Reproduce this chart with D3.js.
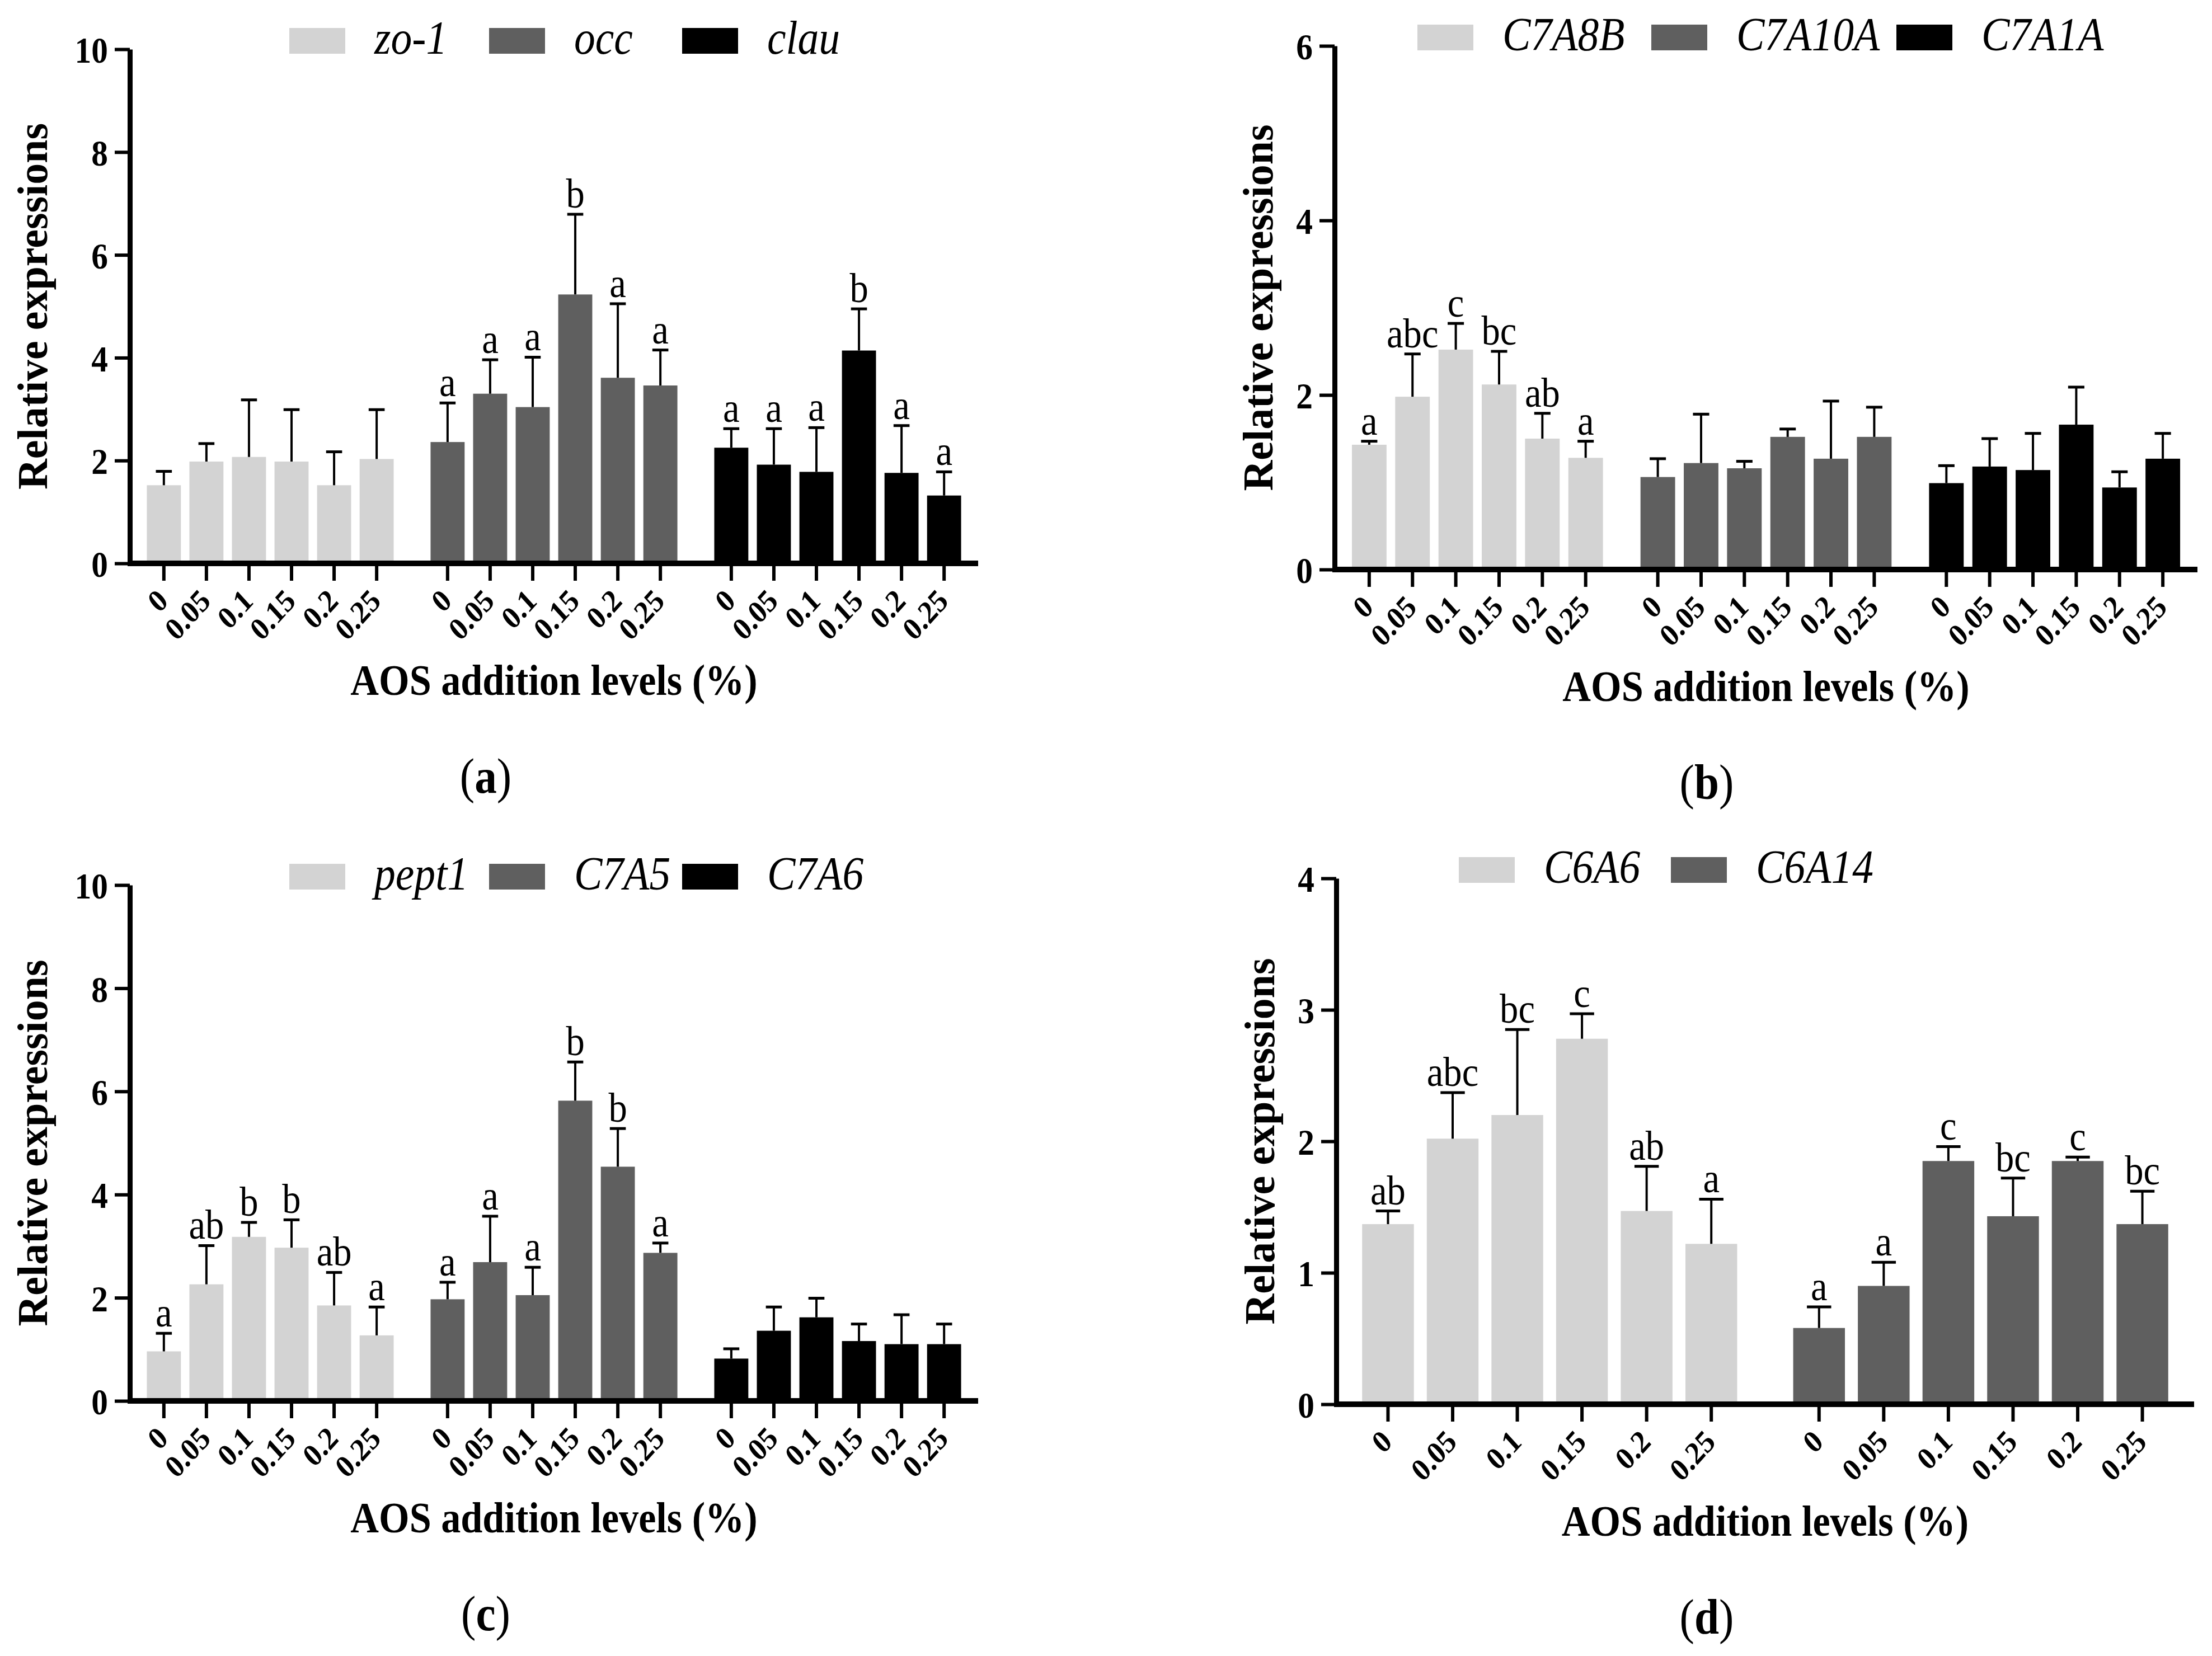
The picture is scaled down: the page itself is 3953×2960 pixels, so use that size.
<!DOCTYPE html>
<html><head><meta charset="utf-8">
<script src="https://cdn.jsdelivr.net/npm/d3@7"></script>
<style>html,body{margin:0;padding:0;background:#fff;} svg{display:block;}</style>
</head><body>
<svg id="chart" width="3953" height="2960" viewBox="0 0 3953 2960"></svg>
<script>
// ---------- DATA ----------
const levels = ["0", "0.05", "0.1", "0.15", "0.2", "0.25"];
const yTicksA = [0, 2, 4, 6, 8, 10];
const yTicksB = [0, 2, 4, 6];
const yTicksC = [0, 2, 4, 6, 8, 10];
const yTicksD = [0, 1, 2, 3, 4];
const xTitle = "AOS addition levels (%)";
const yTitle = "Relative expressions";

// panel (a)
const genesA = ["zo-1", "occ", "clau"];
const zo1Mean = [1.52, 1.98, 2.07, 1.98, 1.52, 2.03];
const zo1Sd   = [0.27, 0.35, 1.11, 1.01, 0.65, 0.96];
const zo1Let  = ["", "", "", "", "", ""];
const occMean = [2.36, 3.30, 3.04, 5.23, 3.61, 3.46];
const occSd   = [0.76, 0.66, 0.97, 1.56, 1.44, 0.69];
const occLet  = ["a", "a", "a", "b", "a", "a"];
const clauMean = [2.25, 1.92, 1.78, 4.14, 1.76, 1.32];
const clauSd   = [0.37, 0.70, 0.86, 0.81, 0.92, 0.46];
const clauLet  = ["a", "a", "a", "b", "a", "a"];

// panel (b)
const genesB = ["C7A8B", "C7A10A", "C7A1A"];
const c7a8bMean = [1.43, 1.98, 2.52, 2.12, 1.50, 1.28];
const c7a8bSd   = [0.04, 0.49, 0.30, 0.38, 0.29, 0.19];
const c7a8bLet  = ["a", "abc", "c", "bc", "ab", "a"];
const c7a10aMean = [1.06, 1.22, 1.16, 1.52, 1.27, 1.52];
const c7a10aSd   = [0.21, 0.56, 0.08, 0.09, 0.66, 0.34];
const c7a10aLet  = ["", "", "", "", "", ""];
const c7a1aMean = [0.99, 1.18, 1.14, 1.66, 0.94, 1.27];
const c7a1aSd   = [0.20, 0.32, 0.42, 0.43, 0.18, 0.29];
const c7a1aLet  = ["", "", "", "", "", ""];

// panel (c)
const genesC = ["pept1", "C7A5", "C7A6"];
const pept1Mean = [0.96, 2.26, 3.18, 2.97, 1.85, 1.27];
const pept1Sd   = [0.35, 0.75, 0.28, 0.54, 0.64, 0.55];
const pept1Let  = ["a", "ab", "b", "b", "ab", "a"];
const c7a5Mean = [1.97, 2.69, 2.05, 5.82, 4.54, 2.87];
const c7a5Sd   = [0.33, 0.89, 0.54, 0.75, 0.74, 0.19];
const c7a5Let  = ["a", "a", "a", "b", "b", "a"];
const c7a6Mean = [0.82, 1.36, 1.62, 1.16, 1.10, 1.10];
const c7a6Sd   = [0.19, 0.46, 0.37, 0.33, 0.57, 0.39];
const c7a6Let  = ["", "", "", "", "", ""];

// panel (d)
const genesD = ["C6A6", "C6A14"];
const c6a6Mean = [1.37, 2.02, 2.20, 2.78, 1.47, 1.22];
const c6a6Sd   = [0.10, 0.35, 0.65, 0.19, 0.34, 0.34];
const c6a6Let  = ["ab", "abc", "bc", "c", "ab", "a"];
const c6a14Mean = [0.58, 0.90, 1.85, 1.43, 1.85, 1.37];
const c6a14Sd   = [0.16, 0.18, 0.11, 0.29, 0.03, 0.25];
const c6a14Let  = ["a", "a", "c", "bc", "c", "bc"];

const fills = ["#d3d3d3", "#5f5f5f", "#000000"];

// ---------- LAYOUT ----------
const FONT = "'Liberation Serif','Times New Roman',Times,serif";
const SX = 0.9; // horizontal text compression seen in the reference

const panels = [
  { tag: "a", left: 232, right: 1748, top: 88, bottom: 1007, ymax: 10, yticks: yTicksA, ylabOff: 148,
    legendX: [517, 874, 1219], labelX: 868, genes: genesA,
    means: [zo1Mean, occMean, clauMean], sds: [zo1Sd, occSd, clauSd], lets: [zo1Let, occLet, clauLet] },
  { tag: "b", left: 2385, right: 3927, top: 82, bottom: 1018, ymax: 6, yticks: yTicksB, ylabOff: 111,
    legendX: [2533, 2951, 3389], labelX: 3050, genes: genesB,
    means: [c7a8bMean, c7a10aMean, c7a1aMean], sds: [c7a8bSd, c7a10aSd, c7a1aSd], lets: [c7a8bLet, c7a10aLet, c7a1aLet] },
  { tag: "c", left: 232, right: 1748, top: 1582, bottom: 2504, ymax: 10, yticks: yTicksC, ylabOff: 148,
    legendX: [517, 874, 1219], labelX: 868, genes: genesC,
    means: [pept1Mean, c7a5Mean, c7a6Mean], sds: [pept1Sd, c7a5Sd, c7a6Sd], lets: [pept1Let, c7a5Let, c7a6Let] },
  { tag: "d", left: 2388, right: 3921, top: 1570, bottom: 2510, ymax: 4, yticks: yTicksD, ylabOff: 111,
    legendX: [2607, 2986], labelX: 3050, genes: genesD,
    means: [c6a6Mean, c6a14Mean], sds: [c6a6Sd, c6a14Sd], lets: [c6a6Let, c6a14Let] }
];

const svg = d3.select("#chart");
svg.append("rect").attr("width", 3953).attr("height", 2960).attr("fill", "#fff");

function drawPanel(p) {
  const g = svg.append("g").attr("class", "panel-" + p.tag);
  const y = d3.scaleLinear().domain([0, p.ymax]).range([p.bottom, p.top]);
  const x0 = d3.scaleBand().domain(p.genes).range([p.left, p.right]).paddingInner(0.1).paddingOuter(0.045);
  const x1 = d3.scaleBand().domain(levels).range([0, x0.bandwidth()]).paddingInner(0.2).paddingOuter(0.1);
  const color = d3.scaleOrdinal().domain(p.genes).range(fills);

  const rows = p.genes.flatMap((gene, gi) => levels.map((lv, i) => ({
    gene, lv, m: p.means[gi][i], sd: p.sds[gi][i], letter: p.lets[gi][i]
  })));
  const cx = d => x0(d.gene) + x1(d.lv) + x1.bandwidth() / 2;

  // bars
  g.append("g").selectAll("rect").data(rows).join("rect")
    .attr("x", d => x0(d.gene) + x1(d.lv))
    .attr("width", x1.bandwidth())
    .attr("y", d => y(d.m))
    .attr("height", d => y(0) - y(d.m))
    .attr("fill", d => color(d.gene));

  // error bars (upper only)
  const capW = x1.bandwidth() * 0.47;
  const eg = g.append("g").attr("stroke", "#000");
  eg.selectAll("line.v").data(rows).join("line").attr("class", "v")
    .attr("x1", cx).attr("x2", cx)
    .attr("y1", d => y(d.m)).attr("y2", d => y(d.m + d.sd))
    .attr("stroke-width", 4);
  eg.selectAll("line.cap").data(rows).join("line").attr("class", "cap")
    .attr("x1", d => cx(d) - capW / 2).attr("x2", d => cx(d) + capW / 2)
    .attr("y1", d => y(d.m + d.sd)).attr("y2", d => y(d.m + d.sd))
    .attr("stroke-width", 5);

  // significance letters
  g.append("g").selectAll("text").data(rows.filter(d => d.letter)).join("text")
    .attr("transform", d => `translate(${cx(d)},${y(d.m + d.sd) - 12}) scale(${SX},1)`)
    .attr("text-anchor", "middle")
    .attr("font-family", FONT).attr("font-size", 74)
    .text(d => d.letter);

  // y axis
  const ya = g.append("g").attr("transform", `translate(${p.left},0)`)
    .call(d3.axisLeft(y).tickValues(p.yticks).tickSize(27).tickPadding(10).tickSizeOuter(0).tickFormat(d3.format("d")));
  ya.select(".domain").attr("stroke", "#000").attr("stroke-width", 9);
  ya.selectAll(".tick line").attr("stroke", "#000").attr("stroke-width", 6);
  ya.selectAll(".tick text")
    .attr("x", null).attr("dy", "0.36em")
    .attr("transform", `translate(-39,0) scale(${SX},1)`)
    .attr("font-family", FONT).attr("font-weight", "bold").attr("font-size", 66).attr("fill", "#000");

  // x axis line
  g.append("line").attr("x1", p.left - 4).attr("x2", p.right)
    .attr("y1", p.bottom).attr("y2", p.bottom)
    .attr("stroke", "#000").attr("stroke-width", 10);
  // x ticks
  g.append("g").selectAll("line").data(rows).join("line")
    .attr("x1", cx).attr("x2", cx)
    .attr("y1", p.bottom).attr("y2", p.bottom + 31)
    .attr("stroke", "#000").attr("stroke-width", 6);
  // x tick labels
  g.append("g").selectAll("text").data(rows).join("text")
    .attr("transform", d => `translate(${cx(d) + 10},${p.bottom + 70}) scale(${SX},1) rotate(-45)`)
    .attr("text-anchor", "end")
    .attr("font-family", FONT).attr("font-weight", "bold").attr("font-size", 57)
    .text(d => d.lv);

  // axis titles
  g.append("text")
    .attr("transform", `translate(${(p.left + p.right) / 2},${p.bottom + 235}) scale(${SX},1)`)
    .attr("text-anchor", "middle")
    .attr("font-family", FONT).attr("font-weight", "bold").attr("font-size", 78)
    .text(xTitle);
  g.append("text")
    .attr("transform", `translate(${p.left - p.ylabOff},${(p.top + p.bottom) / 2}) rotate(-90)`)
    .attr("text-anchor", "middle")
    .attr("font-family", FONT).attr("font-weight", "bold").attr("font-size", 76)
    .text(yTitle);

  // legend
  const lg = g.append("g").selectAll("g").data(p.genes).join("g");
  const ly = p.top - 15;
  lg.append("rect")
    .attr("x", (d, i) => p.legendX[i]).attr("y", ly - 23)
    .attr("width", 100).attr("height", 46)
    .attr("fill", d => color(d));
  lg.append("text")
    .attr("transform", (d, i) => `translate(${p.legendX[i] + 152},${ly + 23}) scale(${SX},1)`)
    .attr("font-family", FONT).attr("font-style", "italic").attr("font-size", 84)
    .text(d => d);

  // panel label
  const pl = g.append("text")
    .attr("transform", `translate(${p.labelX},${p.bottom + 410}) scale(${SX},1)`)
    .attr("text-anchor", "middle")
    .attr("font-family", FONT).attr("font-size", 88);
  pl.append("tspan").text("(");
  pl.append("tspan").attr("font-weight", "bold").text(p.tag);
  pl.append("tspan").text(")");
}

panels.forEach(drawPanel);
</script>
</body></html>
